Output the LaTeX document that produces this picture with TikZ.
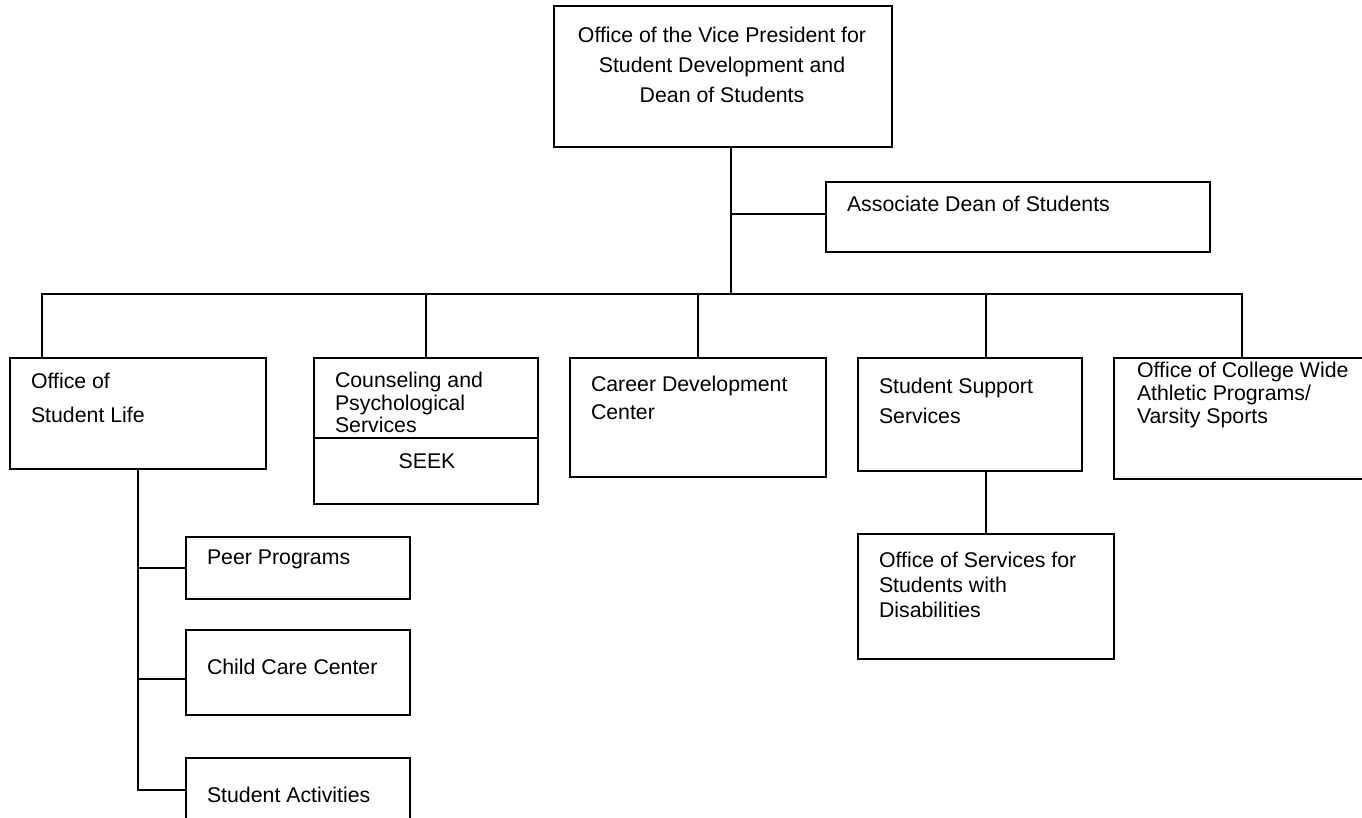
\documentclass[tikz,border=0pt]{standalone}
\usepackage{fontspec}
\setmainfont{Liberation Sans}
\begin{document}
\begin{tikzpicture}[x=1pt,y=-1pt,
  box/.style={draw=black, line width=1.2pt, inner sep=0pt, outer sep=0pt, anchor=north west},
  txt/.style={inner sep=0pt, outer sep=0pt, anchor=base west, font=\fontsize{21.3}{25}\selectfont},
  txtc/.style={txt, anchor=base},
  conn/.style={draw=black, line width=1.2pt}]
\useasboundingbox (0,0) rectangle (1362,818);
\begin{scope}
\clip (0,0) rectangle (1362,818);
% boxes
\node[box, minimum width=338pt, minimum height=141pt] (vp) at (554,6) {};
\node[box, minimum width=384pt, minimum height=70pt] (assoc) at (826,182) {};
\node[box, minimum width=256pt, minimum height=111pt] (osl) at (10,358) {};
\node[box, minimum width=224pt, minimum height=146pt] (cps) at (314,358) {};
\node[box, minimum width=256pt, minimum height=119pt] (cdc) at (570,358) {};
\node[box, minimum width=224pt, minimum height=113pt] (sss) at (858,358) {};
\node[box, minimum width=300pt, minimum height=121pt] (ocw) at (1114,358) {};
\node[box, minimum width=256pt, minimum height=125pt] (osd) at (858,534) {};
\node[box, minimum width=224pt, minimum height=62pt] (peer) at (186,537) {};
\node[box, minimum width=224pt, minimum height=85pt] (child) at (186,630) {};
\node[box, minimum width=224pt, minimum height=100pt] (sa) at (186,758) {};
\draw[conn] ([yshift=-80pt]cps.north west) -- ([yshift=-80pt]cps.north east);
% texts
\node[txtc] (vp1) at (722,43) {Office of the Vice President for};
\node[txtc] (vp2) at (722,73) {Student Development and};
\node[txtc] (vp3) at (722,103) {Dean of Students};
\node[txt] (as1) at (847,212) {Associate Dean of Students};
\node[txt] (osl1) at (31,388) {Office of};
\node[txt] (osl2) at (31,422) {Student Life};
\node[txt] (cps1) at (335,387) {Counseling and};
\node[txt] (cps2) at (335,410) {Psychological};
\node[txt] (cps3) at (335,432) {Services};
\node[txtc] (seek) at (427,468) {SEEK};
\node[txt] (cdc1) at (591,391) {Career Development};
\node[txt] (cdc2) at (591,419) {Center};
\node[txt] (sss1) at (879,393) {Student Support};
\node[txt] (sss2) at (879,423) {Services};
\node[txt] (ocw1) at (1137,377) {Office of College Wide};
\node[txt] (ocw2) at (1137,400) {Athletic Programs/};
\node[txt] (ocw3) at (1137,423) {Varsity Sports};
\node[txt] (osd1) at (879,567) {Office of Services for};
\node[txt] (osd2) at (879,592) {Students with};
\node[txt] (osd3) at (879,617) {Disabilities};
\node[txt] (peer1) at (207,564) {Peer Programs};
\node[txt] (child1) at (207,674) {Child Care Center};
\node[txt] (sa1) at (207,802) {Student Activities};
% connectors
\coordinate (bus) at (731,294);
\coordinate (busL) at (42,294);
\coordinate (busR) at (1242,294);
\coordinate (sssx) at (986,294);
\draw[conn] (vp.south -| bus) -- (bus);
\draw[conn] (bus |- assoc.west) ++(0,-3) -- ([yshift=3pt]assoc.west);
\draw[conn] (busL |- osl.north) -- (busL) -- (busR) -- (busR |- ocw.north);
\draw[conn] (cps.north |- busL) -- (cps.north);
\draw[conn] (cdc.north |- busL) -- (cdc.north);
\draw[conn] (sssx) -- (sssx |- sss.north);
\draw[conn] (sss.south -| sssx) -- (sssx |- osd.north);
\draw[conn] (osl.south) |- ([yshift=-32pt]sa.north west);
\draw[conn] (osl.south |- peer.west) -- (peer.west);
\draw[conn] ([yshift=-6.5pt]osl.south |- child.west) -- ([yshift=-6.5pt]child.west);
\end{scope}
\end{tikzpicture}
\end{document}
